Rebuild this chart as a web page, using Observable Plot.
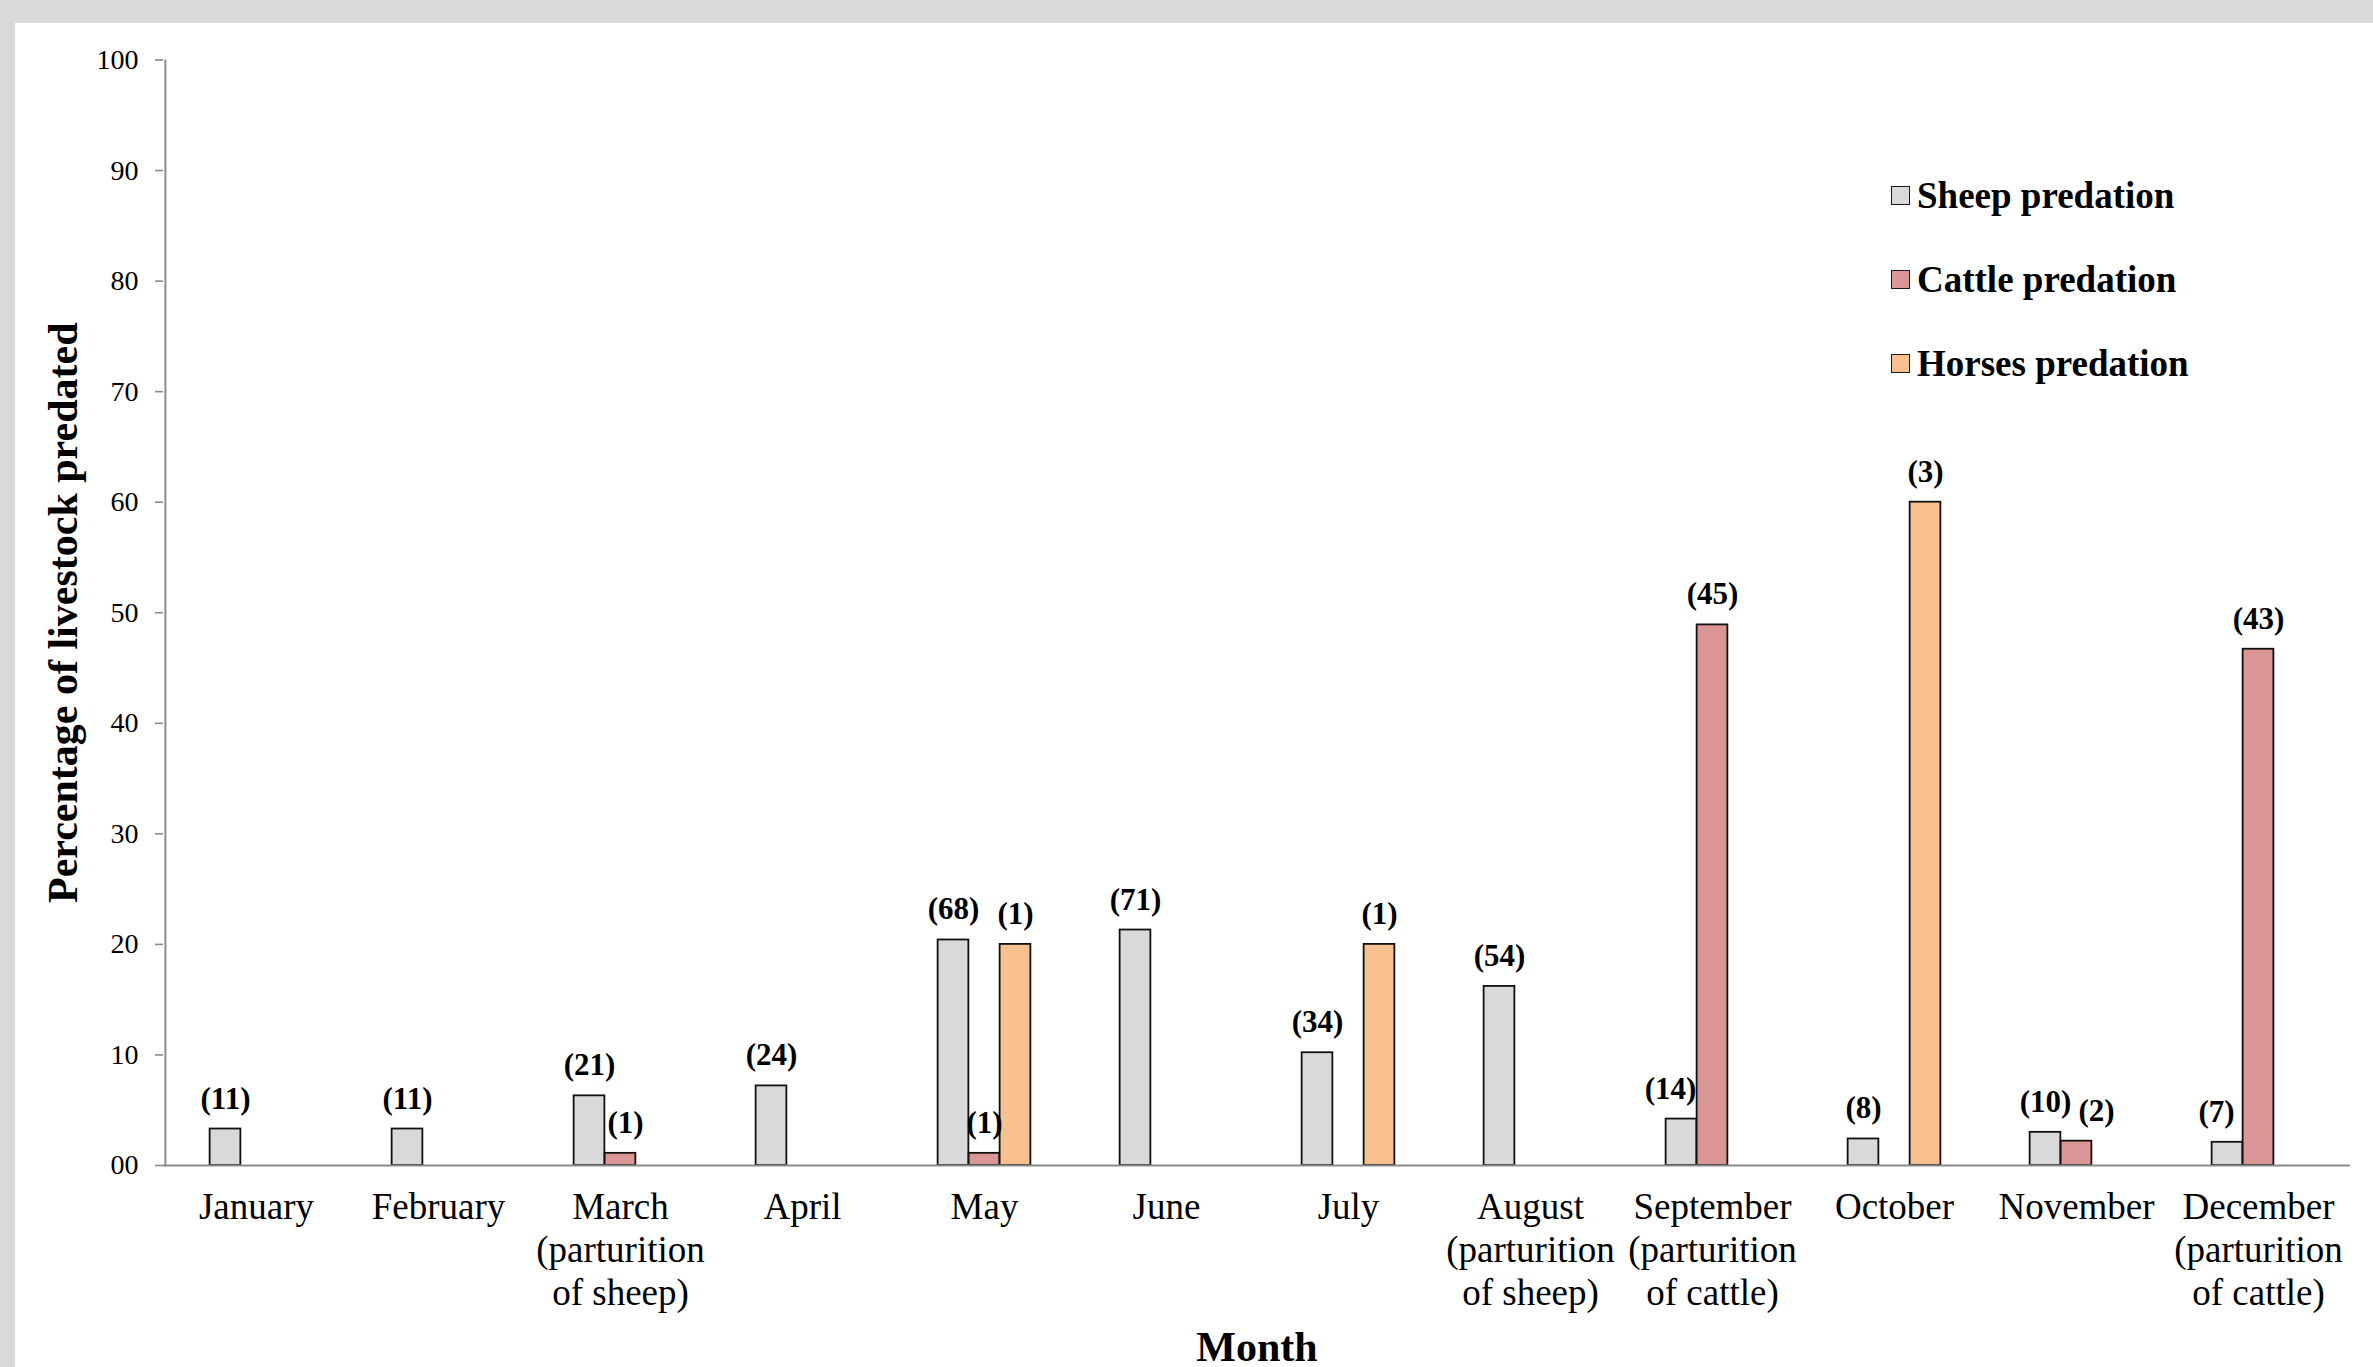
<!DOCTYPE html>
<html>
<head>
<meta charset="utf-8">
<script src="https://cdn.jsdelivr.net/npm/d3@7"></script>
<script src="https://cdn.jsdelivr.net/npm/@observablehq/plot@0.6"></script>
<style>
  html, body { margin: 0; padding: 0; background: #d9d9d9; width: 2373px; height: 1367px; overflow: hidden; }
  #card { position: absolute; left: 15px; top: 23px; width: 2358px; height: 1344px; background: #fff; }
  #legend { position: absolute; left: 1876px; top: 130px; font-family: 'Liberation Serif', 'Times New Roman', serif; font-weight: bold; font-size: 37px; color: #000; }
  #legend .row { height: 84px; display: flex; align-items: center; white-space: nowrap; }
  #legend .sw { width: 17px; height: 17px; border: 1.6px solid #1a1a1a; margin-right: 7px; flex: none; }
</style>
</head>
<body>
<div id="card"><div id="legend"></div></div>
<script>
// Months (with the parturition seasons noted under the month name)
const months = [
  "January", "February", "March\n(parturition\nof sheep)", "April", "May", "June",
  "July", "August\n(parturition\nof sheep)", "September\n(parturition\nof cattle)",
  "October", "November", "December\n(parturition\nof cattle)"
];

// Percentage of each livestock type predated per month (null = none)
const sheepPct  = [3.3, 3.3, 6.3, 7.2, 20.4, 21.3, 10.2, 16.2, 4.2, 2.4, 3.0, 2.1];
const cattlePct = [null, null, 1.1, null, 1.1, null, null, null, 48.9, null, 2.2, 46.7];
const horsesPct = [null, null, null, null, 20, null, 20, null, null, 60, null, null];

// Number of animals predated (shown in brackets above the bars)
const sheepN  = [11, 11, 21, 24, 68, 71, 34, 54, 14, 8, 10, 7];
const cattleN = [null, null, 1, null, 1, null, null, null, 45, null, 2, 43];
const horsesN = [null, null, null, null, 1, null, 1, null, null, 3, null, null];

const seriesNames = ["Sheep predation", "Cattle predation", "Horses predation"];
const seriesColors = ["#d9d9d9", "#d99694", "#f9c08f"];
const yTicks = [0, 10, 20, 30, 40, 50, 60, 70, 80, 90, 100];

const pcts = [sheepPct, cattlePct, horsesPct];
const counts = [sheepN, cattleN, horsesN];

// layout
const width = 2358, height = 1344;
const marginLeft = 148, marginRight = 23, marginTop = 36.5, marginBottom = 202;
const bandW = (width - marginLeft - marginRight) / months.length;
const barW = 31;
const font = "'Liberation Serif', 'Times New Roman', serif";

// long-format rows
const rows = [];
pcts.forEach((arr, j) => arr.forEach((v, i) => {
  if (v != null) rows.push({month: months[i], i, j, series: seriesNames[j], value: v, n: counts[j][i]});
}));

// keep a label clear of its neighbour when bars sit side by side
function labelShift(d) {
  const s = sheepPct[d.i], c = cattlePct[d.i], h = horsesPct[d.i];
  if (d.j === 0 && c != null && c > s) return -11;
  if (d.j === 1 && h == null && s > d.value) return (s - d.value) < 2 ? 20 : 5;
  return 0;
}

const barMarks = seriesNames.map((name, j) => {
  const left = bandW / 2 + (j - 1.5) * barW;
  return Plot.barY(rows.filter(d => d.j === j), {
    x: "month", y: "value",
    fill: seriesColors[j], stroke: "#111", strokeWidth: 1.8,
    insetLeft: left, insetRight: bandW - left - barW
  });
});

const labelRows = rows.map(d => ({...d, dx: (d.j - 1) * barW + labelShift(d)}));
const labelMarks = d3.groups(labelRows, d => d.dx).map(([dx, rs]) =>
  Plot.text(rs, {
    x: "month", y: "value", text: d => `(${d.n})`, dx, dy: -20.5,
    lineAnchor: "bottom", fontSize: 31, fontWeight: "bold", fill: "black", fontFamily: font
  })
);

const chart = Plot.plot({
  width, height, marginLeft, marginRight, marginTop, marginBottom,
  style: {fontFamily: font, background: "transparent", overflow: "visible", color: "black"},
  x: {type: "band", domain: months, padding: 0, axis: null},
  y: {domain: [0, 100], axis: null},
  marks: [
    Plot.axisY({
      ticks: yTicks, tickSize: 8, tickPadding: 17, fontSize: 28,
      fontFamily: font, fontVariant: "normal",
      tickFormat: d => d === 0 ? "00" : String(d),
      stroke: "#8a8a8a", strokeWidth: 1.6, fill: "black", label: null
    }),
    Plot.axisX({
      tickSize: 0, tickPadding: 23, fontSize: 37, lineHeight: 1.16,
      fontFamily: font, fill: "black", label: null
    }),
    ...barMarks,
    Plot.ruleY([0], {stroke: "#8a8a8a", strokeWidth: 2.2}),
    Plot.ruleX([months[0]], {y1: 0, y2: 100, dx: -bandW / 2, stroke: "#8a8a8a", strokeWidth: 2}),
    ...labelMarks,
    Plot.text(["Percentage of livestock predated"], {
      frameAnchor: "left", rotate: -90, dx: -100, textAnchor: "middle", lineAnchor: "middle",
      fontSize: 42, fontWeight: "bold", fill: "black", fontFamily: font
    }),
    Plot.text(["Month"], {
      frameAnchor: "bottom", dy: 195.5, lineAnchor: "bottom", textAnchor: "middle",
      fontSize: 42, fontWeight: "bold", fill: "black", fontFamily: font
    })
  ]
});

const card = document.getElementById("card");
card.insertBefore(chart, card.firstChild);

// legend
const legend = d3.select("#legend");
seriesNames.forEach((name, j) => {
  const row = legend.append("div").attr("class", "row");
  row.append("div").attr("class", "sw").style("background", seriesColors[j]);
  row.append("span").text(name);
});
</script>
</body>
</html>
